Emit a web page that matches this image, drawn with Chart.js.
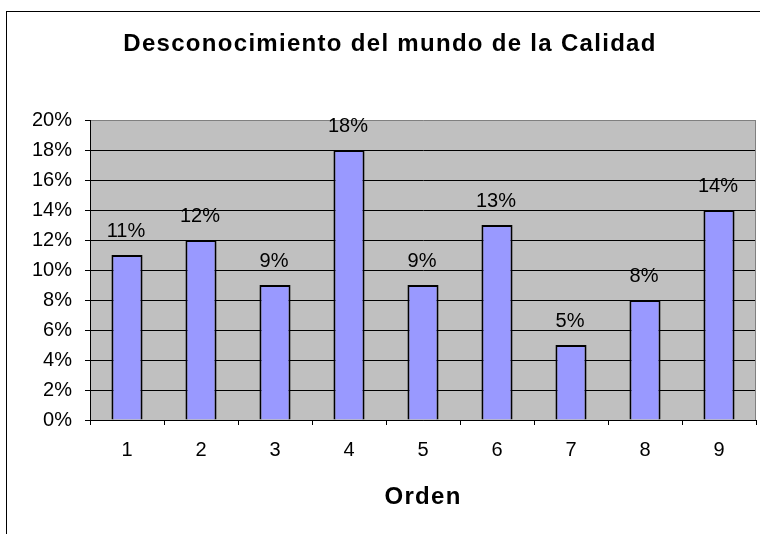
<!DOCTYPE html>
<html>
<head>
<meta charset="utf-8">
<script src="https://cdn.jsdelivr.net/npm/chart.js@4/dist/chart.umd.min.js"></script>
<style>
  html, body { margin: 0; padding: 0; background: #fff; }
  canvas { display: block; }
</style>
</head>
<body>
<canvas id="chart" width="760" height="534"></canvas>
<script>
(function () {
  'use strict';

  // Data
  const chartTitle = 'Desconocimiento del mundo de la Calidad';
  const axisTitle  = 'Orden';
  const categories = ['1', '2', '3', '4', '5', '6', '7', '8', '9'];
  const shares     = [0.11, 0.12, 0.09, 0.18, 0.09, 0.13, 0.05, 0.08, 0.14];
  const yTicks     = [0, 0.02, 0.04, 0.06, 0.08, 0.10, 0.12, 0.14, 0.16, 0.18, 0.20];

  const FONT = "'Liberation Sans', Arial, sans-serif";
  const pct = v => Math.round(v * 100) + '%';

  // Excel look: white page, outer frame, grey plot area, spaced bold titles
  const excelFrame = {
    id: 'excelFrame',
    beforeDraw(chart) {
      const ctx = chart.ctx, a = chart.chartArea;
      ctx.save();
      ctx.fillStyle = '#fff';
      ctx.fillRect(0, 0, chart.width, chart.height);
      ctx.strokeStyle = '#000';
      ctx.lineWidth = 1;
      ctx.strokeRect(6.5, 11.5, chart.width + 20, chart.height + 20);
      ctx.fillStyle = '#C0C0C0';
      ctx.fillRect(a.left, a.top, a.right - a.left, a.bottom - a.top);
      ctx.restore();
    },
    afterDraw(chart) {
      const ctx = chart.ctx, a = chart.chartArea;
      ctx.save();
      // plot area border, right edge
      ctx.strokeStyle = '#808080';
      ctx.beginPath();
      ctx.moveTo(Math.round(a.right) - 0.5, a.top);
      ctx.lineTo(Math.round(a.right) - 0.5, a.bottom);
      ctx.stroke();
      ctx.fillStyle = '#000';
      ctx.textAlign = 'center';
      ctx.textBaseline = 'alphabetic';
      ctx.letterSpacing = '1.3px';
      ctx.font = 'bold 24px ' + FONT;
      ctx.fillText(chartTitle, 390, 51);
      ctx.fillText(axisTitle, (a.left + a.right) / 2, 504);
      ctx.restore();
    }
  };

  const valueLabels = {
    id: 'valueLabels',
    afterDatasetsDraw(chart) {
      const ctx = chart.ctx;
      const meta = chart.getDatasetMeta(0);
      ctx.save();
      ctx.fillStyle = '#000';
      ctx.font = '20px ' + FONT;
      ctx.textAlign = 'center';
      ctx.textBaseline = 'alphabetic';
      meta.data.forEach(function (bar, i) {
        ctx.fillText(pct(shares[i]), bar.x - 1, bar.y - 18);
      });
      ctx.restore();
    }
  };

  new Chart(document.getElementById('chart'), {
    type: 'bar',
    data: {
      labels: categories,
      datasets: [{
        data: shares,
        backgroundColor: '#9999FF',
        borderColor: '#000',
        borderWidth: 2,
        categoryPercentage: 1,
        barPercentage: 0.42
      }]
    },
    options: {
      responsive: false,
      devicePixelRatio: 1,
      animation: false,
      layout: { padding: { top: 120, left: 0, right: 4, bottom: 0 } },
      plugins: {
        legend: { display: false },
        title: { display: false },
        tooltip: { enabled: false }
      },
      scales: {
        x: {
          afterFit(scale) { scale.height = 114; },
          grid: {
            offset: true,
            drawOnChartArea: false,
            drawTicks: true,
            tickLength: 5,
            tickColor: '#000'
          },
          border: { color: '#000', width: 1 },
          ticks: { color: '#000', font: { family: FONT, size: 20 }, padding: 13 }
        },
        y: {
          min: 0,
          max: 0.2,
          afterFit(scale) { scale.width = 90; },
          afterBuildTicks(scale) { scale.ticks = yTicks.map(v => ({ value: v })); },
          grid: {
            color: ctx => (ctx.tick && ctx.tick.value >= 0.2 ? '#808080' : '#000'),
            tickColor: '#000',
            tickLength: 5,
            drawTicks: true
          },
          border: { color: '#000', width: 1 },
          ticks: {
            color: '#000',
            font: { family: FONT, size: 20 },
            padding: 13,
            callback: v => pct(v)
          }
        }
      }
    },
    plugins: [excelFrame, valueLabels]
  });
}());
</script>
</body>
</html>
